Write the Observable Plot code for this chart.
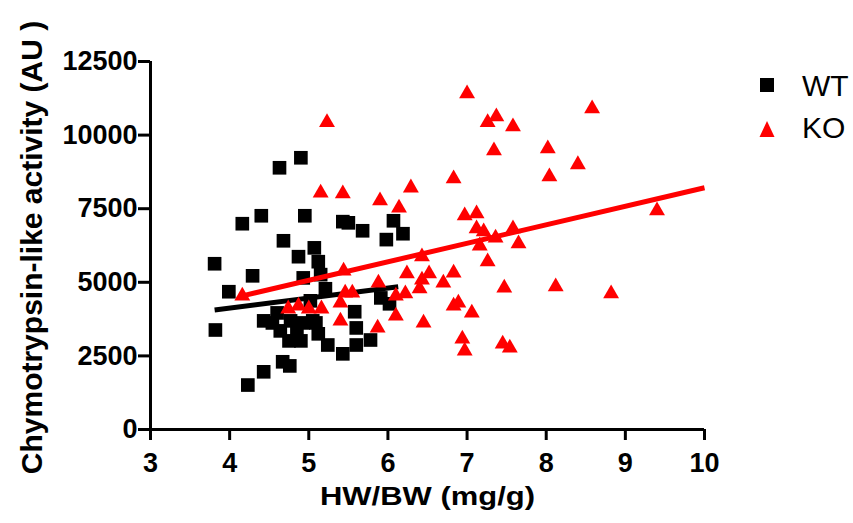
<!DOCTYPE html>
<html>
<head>
<meta charset="utf-8">
<script src="https://cdn.jsdelivr.net/npm/d3@7"></script>
<script src="https://cdn.jsdelivr.net/npm/@observablehq/plot@0.6"></script>
<style>
  html, body { margin: 0; padding: 0; background: #fff; }
  #wrap { position: relative; width: 853px; height: 523px; }
  #legend { position: absolute; left: 0; top: 0; pointer-events: none; }
</style>
</head>
<body>
<div id="wrap"></div>
<script>
// ---- data ----
const xTicks = [3, 4, 5, 6, 7, 8, 9, 10];
const yTicks = [0, 2500, 5000, 7500, 10000, 12500];
const seriesNames = ["WT", "KO"];
const seriesColors = ["#000000", "#ff0000"];

const wtX = [3.81, 3.82, 3.99, 4.16, 4.23, 4.29, 4.40, 4.43, 4.43, 4.63, 4.68, 4.67, 4.76, 4.90, 4.95, 4.87,
  5.07, 5.12, 4.93, 5.15, 5.43, 5.50, 5.68, 6.07, 6.19, 5.98, 5.91, 6.02, 5.58, 5.60, 5.78, 5.60, 5.43, 5.24,
  5.21, 5.12, 4.54, 4.64, 4.77, 4.85, 4.93, 4.75, 4.90, 4.60, 5.05, 5.09, 5.02];
const wtY = [5630, 3380, 4680, 6990, 1510, 5220, 7260, 1960, 3690, 8890, 6410, 2300, 2160, 9230, 7260, 5870,
  6170, 5700, 5150, 5260, 7060, 7020, 6750, 7090, 6650, 6450, 4470, 4270, 4000, 3450, 3040, 2870, 2570, 2870,
  4780, 3250, 3620, 3350, 3690, 3280, 3620, 3010, 3010, 3960, 3690, 3620, 4370];

const koX = [5.23, 5.15, 5.43, 5.90, 6.14, 6.29, 7.00, 7.26, 7.37, 7.58, 8.58, 7.34, 8.02, 8.40, 8.04, 6.83,
  9.40, 6.97, 7.12, 7.12, 7.21, 7.36, 7.58, 7.16, 7.65, 7.26, 6.43, 6.24, 6.52, 6.43, 6.40, 6.70, 6.83, 6.22,
  6.10, 7.47, 8.12, 8.82, 6.83, 6.89, 7.06, 6.45, 6.94, 6.97, 7.45, 7.54, 5.44, 5.88, 4.16, 4.74, 4.87, 5.00,
  5.16, 5.40, 5.46, 5.55, 5.40, 5.87, 6.10];
const koY = [10430, 8040, 8010, 7770, 7530, 8210, 11410, 10430, 10630, 10290, 10900, 9470, 9540, 9000, 8590, 8520,
  7430, 7260, 7330, 6820, 6720, 6510, 6820, 6240, 6310, 5700, 5870, 5290, 5290, 5080, 4780, 4980, 5320, 4610,
  4540, 4810, 4850, 4610, 4200, 4300, 3960, 3620, 3080, 2670, 2910, 2770, 5390, 4980, 4540, 4100, 4200, 4100,
  4100, 4300, 4640, 4640, 3690, 3450, 3860];

// fitted lines (endpoints)
const wtFitX = [3.81, 6.13];
const wtFitY = [4060, 4850];
const koFitX = [4.16, 10];
const koFitY = [4540, 8210];

const xLabel = "HW/BW (mg/g)";
const yLabel = "Chymotrypsin-like activity (AU )";

const wt = wtX.map((x, i) => ({x, y: wtY[i]}));
const ko = koX.map((x, i) => ({x, y: koY[i]}));
const wtFit = wtFitX.map((x, i) => ({x, y: wtFitY[i]}));
const koFit = koFitX.map((x, i) => ({x, y: koFitY[i]}));

const font = "'Liberation Sans', Arial, sans-serif";

const chart = Plot.plot({
  width: 853,
  height: 523,
  marginLeft: 150,
  marginRight: 149,
  marginTop: 61,
  marginBottom: 94,
  x: {domain: [3, 10]},
  y: {domain: [0, 12500]},
  style: {fontFamily: font, fontSize: "27px", fontWeight: "bold", color: "#000", background: "#fff", overflow: "visible"},
  marks: [
    Plot.ruleX([3], {stroke: "#000", strokeWidth: 3}),
    Plot.ruleY([0], {stroke: "#000", strokeWidth: 3}),
    Plot.axisY({ticks: yTicks, tickSize: 12, tickPadding: 1, strokeWidth: 3, label: null, tickFormat: d => String(d), fontSize: 27, fontWeight: "bold"}),
    Plot.axisX({ticks: xTicks, tickSize: 11, tickPadding: 12, strokeWidth: 3, label: null, tickFormat: d => String(d), fontSize: 27, fontWeight: "bold"}),
    Plot.dot(wt, {x: "x", y: "y", symbol: "square", r: 7.7, fill: seriesColors[0], stroke: "none"}),
    Plot.line(wtFit, {x: "x", y: "y", stroke: seriesColors[0], strokeWidth: 5, strokeLinecap: "butt"}),
    Plot.dot(ko, {x: "x", y: "y", symbol: "triangle", r: 5.9, fill: seriesColors[1], stroke: "none"}),
    Plot.line(koFit, {x: "x", y: "y", stroke: seriesColors[1], strokeWidth: 5, strokeLinecap: "butt"}),
    Plot.text([xLabel], {frameAnchor: "bottom", textAnchor: "middle", dy: 75, text: d => d, fontSize: 25, fontWeight: "bold"}),
    Plot.text([yLabel], {frameAnchor: "left", textAnchor: "middle", rotate: -90, dx: -118, dy: 2, text: d => d, fontSize: 30, fontWeight: "bold"})
  ]
});

const wrap = document.getElementById("wrap");
wrap.appendChild(chart);

d3.select(chart).selectAll("text")
  .filter(function() { return this.textContent === xLabel; })
  .attr("textLength", 215).attr("lengthAdjust", "spacingAndGlyphs");

// legend overlay
const lg = d3.select(wrap).append("svg").attr("id", "legend").attr("width", 853).attr("height", 523);
const items = lg.selectAll("g").data(seriesNames).join("g")
  .attr("transform", (d, i) => `translate(767,${i === 0 ? 85 : 129})`);
items.append("path")
  .attr("d", (d, i) => i === 0 ? "M-7,-7H7V7H-7Z" : "M0,-8L7.5,8H-7.5Z")
  .attr("fill", (d, i) => seriesColors[i]);
items.append("text")
  .attr("x", 35).attr("y", (d, i) => i === 0 ? 11 : 9)
  .attr("font-family", font).attr("font-size", 30).attr("fill", "#000")
  .text(d => d);
</script>
</body>
</html>
